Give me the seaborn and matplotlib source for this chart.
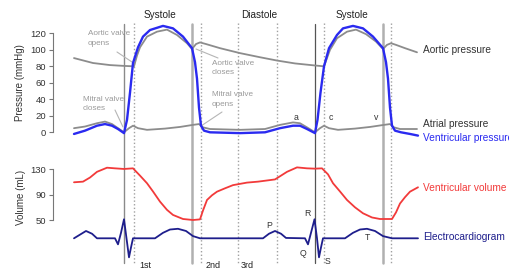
import numpy as np
import pandas as pd
import matplotlib
matplotlib.use("Agg")
import matplotlib.pyplot as plt
import seaborn as sns

# time in ms
aortic_t = [0, 76, 144, 200, 240, 252, 264, 292, 332, 372, 412, 452, 472, 488, 504, 528, 584, 664, 744, 812, 884,
            964, 1000, 1012, 1024, 1052, 1092, 1128, 1168, 1208, 1236, 1252, 1268, 1288, 1324, 1372]
aortic_p = [90, 84, 81.5, 80.5, 80, 93, 103, 116, 122, 124.5, 118, 108, 101, 107, 109, 107, 102, 96, 91, 87, 83.5,
            81, 80, 90, 100, 114, 122, 124.5, 119, 110, 101, 106, 108, 106, 102, 97]

vent_t = [0, 44, 92, 124, 152, 176, 200, 212, 224, 236, 256, 276, 304, 356, 396, 436, 472, 484, 492, 500, 508,
          520, 544, 664, 764, 824, 876, 904, 932, 964, 974, 986, 1000, 1020, 1052, 1076, 1116, 1156, 1196, 1236,
          1248, 1256, 1264, 1272, 1284, 1308, 1344, 1376]
vent_p = [-2, 2, 8, 10, 8, 4, -1, 15, 48, 84, 103, 116, 124, 129, 126, 116, 102, 85, 65, 30, 8,
          2, 0, -1, 0, 5, 8, 8, 4, -1, 15, 48, 80, 102, 118, 126, 129, 126, 116, 102,
          85, 65, 30, 8, 2, 0, -2, -4]

atrial_t = [0, 44, 92, 124, 152, 176, 200, 220, 236, 256, 292, 364, 424, 476, 500, 516, 544, 664, 764, 824, 876,
            904, 932, 964, 984, 1000, 1020, 1056, 1124, 1184, 1240, 1264, 1280, 1304, 1372]
atrial_p = [5, 7, 11, 13, 10, 5, 0, 5, 8, 5, 3, 4.5, 6.5, 9, 10, 6, 4, 3, 4, 9, 12,
            11, 6, 0, 5, 8, 5, 3, 4.5, 6.5, 9, 10, 6, 4, 4]

vol_t = [0, 36, 64, 92, 132, 164, 200, 236, 264, 292, 316, 344, 372, 396, 436, 476, 504, 516, 532, 552, 572, 604,
         636, 692, 736, 804, 828, 852, 892, 932, 964, 992, 1016, 1036, 1064, 1092, 1124, 1156, 1192, 1224, 1272,
         1288, 1304, 1324, 1344, 1376]
vol_ml = [109.5, 110.5, 117, 126, 132.5, 131.5, 130.5, 131.5, 120, 108, 95, 79, 66, 58, 51.6, 50, 51, 65, 81.6, 89,
          94.7, 100, 105, 109, 110.5, 114, 120, 126, 133, 131.5, 131, 131.5, 122, 108, 95, 81.6, 70, 60.6, 54,
          51.6, 51.6, 62, 76, 86, 94.7, 101.6]

ecg_t = [0, 24, 48, 72, 92, 164, 176, 188, 200, 210, 220, 228, 236, 324, 356, 384, 416, 448, 476, 504, 756, 780,
         804, 828, 848, 924, 936, 948, 962, 972, 980, 988, 996, 1084, 1116, 1144, 1172, 1204, 1236, 1272, 1376]
ecg_mv = [0, 0.2, 0.4, 0.25, 0, 0, -0.33, 0.3, 1.04, 0, -1.04, -0.5, 0, 0, 0.3, 0.48, 0.52, 0.4, 0.12, 0, 0, 0.25,
          0.4, 0.25, 0.02, 0, -0.33, 0.3, 1.04, 0, -1.04, -0.5, 0, 0, 0.3, 0.48, 0.52, 0.4, 0.12, 0, 0]

# event markers (ms)
solid_marks = [200, 472, 964, 1236]
dotted_marks = [240, 508, 656, 812, 1000, 1268]

pressure_ticks = [0, 20, 40, 60, 80, 100, 120]
volume_ticks = [50, 90, 130]

sns.set_style("white")
plt.rcParams['font.family'] = ['Liberation Sans', 'DejaVu Sans']

W, H = 509, 271
fig = plt.figure(figsize=(W / 100, H / 100), dpi=100)
xlim = (-296, 1740)


def rows(top, bottom):
    return [0, 1 - bottom / H, 1, (bottom - top) / H]


ax_bg = fig.add_axes([0, 0, 1, 1])
ax_p = fig.add_axes(rows(0, 150))
ax_v = fig.add_axes(rows(145, 228))
ax_e = fig.add_axes(rows(205, 271))

for ax in (ax_bg, ax_p, ax_v, ax_e):
    ax.set_xlim(*xlim)
    ax.patch.set_alpha(0)
    for s in ax.spines.values():
        s.set_visible(False)
    ax.set_xticks([])
    ax.set_yticks([])

ax_bg.set_ylim(H, 0)
ax_p.set_ylim(-21.45, 160.4)
ax_v.set_ylim(37.4, 168.3)
ax_e.set_ylim(-1.787, 1.82)

# vertical event lines
solid_style = [('#8a8a8a', 1.0), ('#b0b0b0', 1.8), ('#555555', 0.9), ('#b0b0b0', 1.8)]
for t, (c, w) in zip(solid_marks, solid_style):
    ax_bg.plot([t, t], [24, 263], color=c, lw=w)
for t in dotted_marks:
    ax_bg.plot([t, t], [23, 263], color='#a0a0a0', lw=1.0, ls=(0, (1, 1.6)))

gray = '#8c8c8c'
sns.lineplot(x=aortic_t, y=aortic_p, ax=ax_p, color=gray, lw=1.3, sort=False, estimator=None)
sns.lineplot(x=atrial_t, y=atrial_p, ax=ax_p, color=gray, lw=1.3, sort=False, estimator=None)
sns.lineplot(x=vent_t, y=vent_p, ax=ax_p, color='#2a2af0', lw=1.7, sort=False, estimator=None)
sns.lineplot(x=vol_t, y=vol_ml, ax=ax_v, color='#f23a3a', lw=1.3, sort=False, estimator=None)
sns.lineplot(x=ecg_t, y=ecg_mv, ax=ax_e, color='#1e1e8c', lw=1.3, sort=False, estimator=None)

# axes with offset spines
for ax, ticks in ((ax_p, pressure_ticks), (ax_v, volume_ticks)):
    ax.spines['left'].set_visible(True)
    ax.spines['left'].set_position(('data', -84))
    ax.spines['left'].set_bounds(ticks[0], ticks[-1])
    ax.spines['left'].set_color('#777777')
    ax.spines['left'].set_linewidth(0.8)
    ax.set_yticks(ticks)
    ax.tick_params(axis='y', left=True, length=3, width=0.8, color='#777777', pad=2,
                   labelsize=6.8, labelcolor='#333333')
    ax.set_ylabel('')

# axis titles
ax_bg.text(-216, 83, 'Pressure (mmHg)', rotation=90, ha='center', va='center', fontsize=7, color='#333333')
ax_bg.text(-212, 197, 'Volume (mL)', rotation=90, ha='center', va='center', fontsize=7, color='#333333')

# phase titles
for t, txt in ((344, 'Systole'), (740, 'Diastole'), (1112, 'Systole')):
    ax_bg.text(t, 15, txt, ha='center', va='center', fontsize=7.2, color='#222222')

# curve names
names = [('Aortic pressure', 50, '#333333'), ('Atrial pressure', 124, '#333333'),
         ('Ventricular pressure', 138, '#2a2af0'), ('Ventricular volume', 188, '#f23a3a'),
         ('Electrocardiogram', 237, '#1e1e8c')]
for txt, y, c in names:
    ax_bg.text(1396, y, txt, ha='left', va='center', fontsize=7.3, color=c)

# valve annotations
note = '#9a9a9a'
valves = [('Aortic valve\nopens', 56, 38.5, (172, 52), (232, 62)),
          ('Aortic valve\ncloses', 552, 68, (488, 49), (576, 58)),
          ('Mitral valve\ncloses', 36, 104, (164, 110), (196, 127)),
          ('Mitral valve\nopens', 552, 99.5, (508, 126), (592, 112))]
for txt, x, y, p0, p1 in valves:
    ax_bg.text(x, y, txt, ha='left', va='center', fontsize=5.9, color=note, linespacing=1.45)
    ax_bg.plot([p0[0], p1[0]], [p0[1], p1[1]], color='#b5b5b5', lw=0.8)

# wave letters
letters = [('a', 888, 117), ('c', 1028, 117), ('v', 1208, 117),
           ('P', 780, 225), ('R', 932, 213), ('Q', 916, 253), ('S', 1016, 261), ('T', 1176, 238)]
for txt, x, y in letters:
    ax_bg.text(x, y, txt, ha='center', va='center', fontsize=6.3, color='#333333')

for txt, x in (('1st', 284), ('2nd', 556), ('3rd', 692)):
    ax_bg.text(x, 266, txt, ha='center', va='center', fontsize=6.5, color='#222222')

fig.savefig('out.png', dpi=100)
